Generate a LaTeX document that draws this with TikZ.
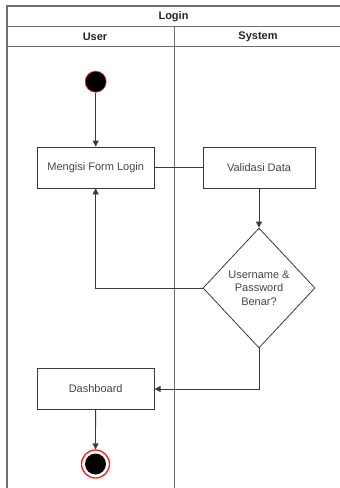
\documentclass[tikz,border=0pt]{standalone}
\usepackage{fontspec}
\setmainfont{Liberation Sans}
\usetikzlibrary{shapes.geometric,arrows.meta}
\definecolor{lineclr}{HTML}{3A3A3A}
\definecolor{frameclr}{HTML}{6E6E6E}
\definecolor{txtclr}{HTML}{444444}
\definecolor{ringred}{HTML}{FF1A1A}
\begin{document}
\begin{tikzpicture}[x=1pt,y=-1pt,
  every node/.style={font=\fontsize{11}{13}\selectfont, text=txtclr},
  lane/.style={draw=frameclr, line width=1.2pt},
  headtxt/.style={font=\bfseries\fontsize{11}{13}\selectfont, text=black!85},
  actbox/.style={draw=lineclr, line width=0.8pt, rectangle, minimum width=117pt, minimum height=41pt, inner sep=0pt},
  decide/.style={draw=lineclr, line width=0.8pt, diamond, minimum width=112pt, minimum height=120pt, inner sep=0pt, align=center, font=\fontsize{11}{13.5}\selectfont},
  flow/.style={draw=lineclr, line width=0.8pt, -{Triangle[length=6pt,width=6pt]}},
  plain/.style={draw=lineclr, line width=0.8pt},
  startdot/.style={circle, fill=black, draw=ringred, line width=0.6pt, minimum size=21pt, inner sep=0pt},
  endring/.style={circle, draw=ringred, line width=1.3pt, fill=white, minimum size=28pt, inner sep=0pt}
]
\useasboundingbox (0,0) rectangle (340,488);

% swimlane frame
\draw[lane] (340,6) -- (7,6) -- (7,488);
\draw[lane] (7,26.7) -- (340,26.7);
\draw[lane] (7,46.7) -- (340,46.7);
\draw[lane] (174.5,26.7) -- (174.5,488);
\node[headtxt] (title) at (173.5,16.3) {Login};
\node[headtxt] (laneuser) at (95,36.7) {User};
\node[headtxt] (lanesys) at (258,36.7) {System};

% activity nodes
\node[startdot] (start) at (95.7,81.7) {};
\node[actbox] (form) at (95.7,167.5) {Mengisi Form Login};
\node[actbox, minimum width=112pt] (valid) at (259,167.5) {Validasi Data};
\node[decide] (check) at (259,288) {Username \&\\Password\\Benar?};
\node[actbox] (dash) at (95.7,389) {Dashboard};
\node[endring] (finish) at (95.5,464) {};
\node[circle, fill=black, minimum size=21pt, inner sep=0pt] (finishdot) at (finish) {};

% connectors
\draw[flow] (start) -- (form);
\draw[plain] (form) -- (valid);
\draw[flow] (valid) -- (check);
\draw[flow] (check.west) -| (form.south);
\draw[flow] (check.south) |- (dash.east);
\draw[flow] (dash) -- (finish);
\end{tikzpicture}
\end{document}
